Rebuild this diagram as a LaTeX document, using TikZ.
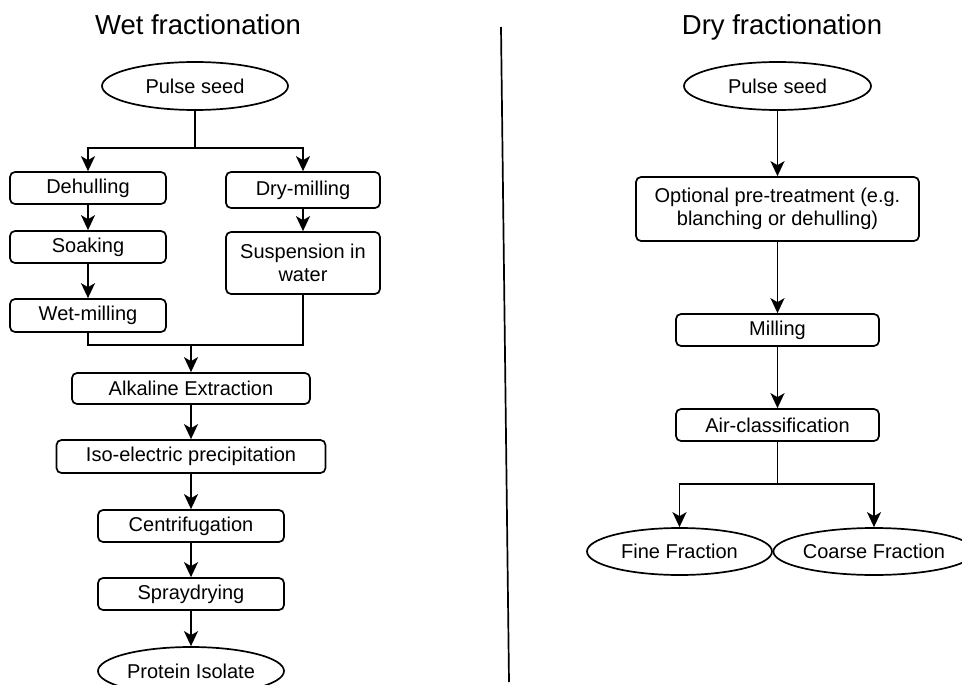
\documentclass[tikz,border=0pt]{standalone}
\usepackage{fontspec}
\setmainfont{Liberation Sans}
\usetikzlibrary{shapes.geometric,arrows.meta}

\begin{document}
\begin{tikzpicture}[x=1pt,y=-1pt,line width=1.7pt,
  >={Stealth[length=15pt,width=14pt,inset=4pt]},
  procbox/.style={rectangle,rounded corners=5pt,draw,inner sep=0pt,align=center,
    font=\fontsize{20}{23.5}\selectfont},
  endbox/.style={ellipse,draw,inner sep=0pt,font=\fontsize{20}{23.5}\selectfont},
  heading/.style={anchor=base,font=\fontsize{27.5}{30}\selectfont}]
\useasboundingbox (0,0) rectangle (962,685);

\path (198,35) node[heading] (wettitle) {Wet fractionation};
\path (782,35) node[heading] (drytitle) {Dry fractionation};
\coordinate (divtop) at (501,27);
\coordinate (divbot) at (509,682);
\draw (divtop) -- (divbot);

\path (195,86) node[endbox,minimum width=186pt,minimum height=48pt] (wseed) {Pulse seed};
\coordinate (wsplit) at (195,148);
\path (88,188) node[procbox,minimum width=156pt,minimum height=32pt] (dehull) {Dehulling};
\path (303,190) node[procbox,minimum width=154pt,minimum height=36pt] (drymill) {Dry-milling};
\path (88,247) node[procbox,minimum width=156pt,minimum height=32pt] (soak) {Soaking};
\path (303,263) node[procbox,minimum width=154pt,minimum height=62pt] (susp) {Suspension in\\water};
\path (88,315.5) node[procbox,minimum width=156pt,minimum height=33pt] (wetmill) {Wet-milling};
\coordinate (wmerge) at (191,345);
\path (191,388.5) node[procbox,minimum width=238pt,minimum height=31pt] (alk) {Alkaline Extraction};
\path (191,456.5) node[procbox,minimum width=269pt,minimum height=33pt] (iso) {Iso-electric precipitation};
\path (191,526) node[procbox,minimum width=186pt,minimum height=32pt] (centr) {Centrifugation};
\path (191,594) node[procbox,minimum width=186pt,minimum height=32pt] (spray) {Spraydrying};
\path (191,671) node[endbox,minimum width=186pt,minimum height=48pt] (prot) {Protein Isolate};

\draw (wseed) -- (wsplit);
\draw[->] (wsplit) -| (dehull);
\draw[->] (wsplit) -| (drymill);
\draw[->] (dehull) -- (soak);
\draw[->] (soak) -- (wetmill);
\draw[->] (drymill) -- (susp);
\draw (wetmill) |- (wmerge);
\draw (susp) |- (wmerge);
\draw[->] (wmerge) -- (alk);
\draw[->] (alk) -- (iso);
\draw[->] (iso) -- (centr);
\draw[->] (centr) -- (spray);
\draw[->] (spray) -- (prot);

\path (777.5,86) node[endbox,minimum width=187pt,minimum height=48pt] (dseed) {Pulse seed};
\path (777.5,209) node[procbox,minimum width=283pt,minimum height=64pt] (pretreat) {Optional pre-treatment (e.g.\\blanching or dehulling)};
\path (777.5,330) node[procbox,minimum width=203pt,minimum height=32pt] (milling) {Milling};
\path (777.5,425) node[procbox,minimum width=203pt,minimum height=32pt] (aircl) {Air-classification};
\coordinate (dsplit) at (777.5,484);
\path (679.5,551.5) node[endbox,minimum width=185pt,minimum height=47pt] (fine) {Fine Fraction};
\path (874,551.5) node[endbox,minimum width=185pt,minimum height=47pt] (coarse) {Coarse Fraction};

\draw[->] (dseed) -- (pretreat);
\draw[->] (pretreat) -- (milling);
\draw[->] (milling) -- (aircl);
\draw (aircl) -- (dsplit);
\draw[->] (dsplit) -| (fine);
\draw[->] (dsplit) -| (coarse);
\end{tikzpicture}
\end{document}
